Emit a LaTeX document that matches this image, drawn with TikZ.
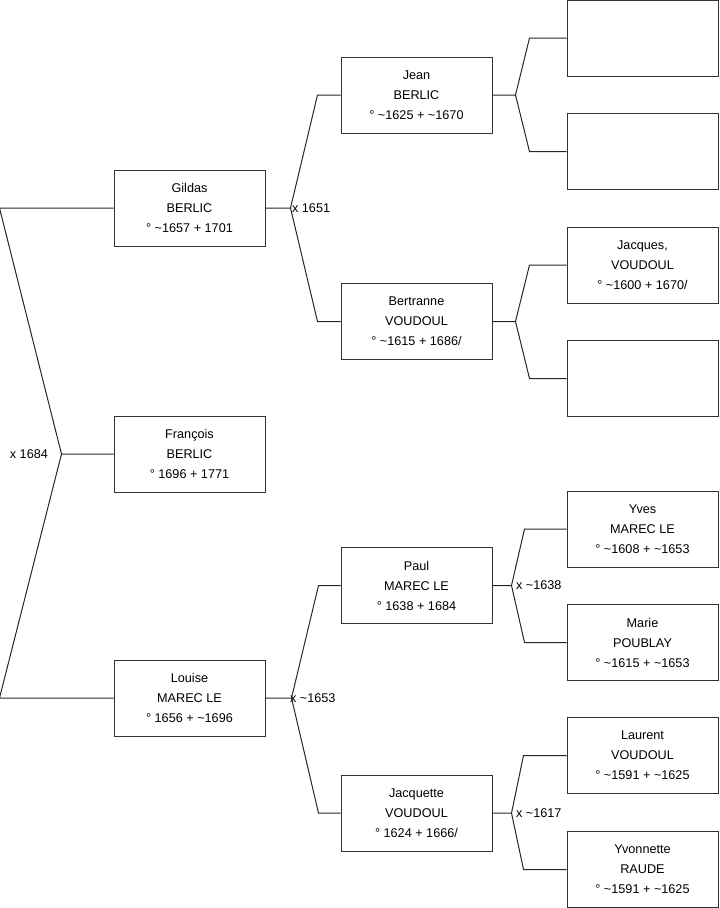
\documentclass[tikz,border=0pt]{standalone}
\usepackage{fontspec}
\setmainfont{Liberation Sans}
\usetikzlibrary{calc}
\definecolor{boxline}{HTML}{333333}
\tikzset{
  person/.style={draw=boxline, line width=0.75pt, fill=white, minimum width=113.25pt,
                 minimum height=57pt, inner sep=0pt, align=center,
                 font=\fontsize{9.5}{15}\selectfont},
  link/.style={line width=0.75pt, color=black!85},
  wedlabel/.style={font=\fontsize{9.5}{11}\selectfont, inner sep=1pt, anchor=west}}

\begin{document}
\begin{tikzpicture}[x=0.75pt, y=-0.75pt]
    \useasboundingbox (0,0) rectangle (719,908);
    % generation 1 and 2
    \node[person] (gildas) at (189.5,208) {Gildas\\BERLIC\\° \textasciitilde1657 + 1701};
    \node[person] (francois) at (189.5,454) {François\\BERLIC\\° 1696 + 1771};
    \node[person] (louise) at (189.5,698) {Louise\\MAREC LE\\° 1656 + \textasciitilde1696};
    % generation 3
    \node[person] (jean) at (416.5,95) {Jean\\BERLIC\\° \textasciitilde1625 + \textasciitilde1670};
    \node[person] (bertranne) at (416.5,321.5) {Bertranne\\VOUDOUL\\° \textasciitilde1615 + 1686/};
    \node[person] (paul) at (416.5,585.5) {Paul\\MAREC LE\\° 1638 + 1684};
    \node[person] (jacquette) at (416.5,813) {Jacquette\\VOUDOUL\\° 1624 + 1666/};
    % generation 4
    \node[person] (empty1) at (642.5,38) {};
    \node[person] (empty2) at (642.5,151.5) {};
    \node[person] (jacques) at (642.5,265) {Jacques,\\VOUDOUL\\° \textasciitilde1600 + 1670/};
    \node[person] (empty3) at (642.5,378.5) {};
    \node[person] (yves) at (642.5,529) {Yves\\MAREC LE\\° \textasciitilde1608 + \textasciitilde1653};
    \node[person] (marie) at (642.5,642.5) {Marie\\POUBLAY\\° \textasciitilde1615 + \textasciitilde1653};
    \node[person] (laurent) at (642.5,755.5) {Laurent\\VOUDOUL\\° \textasciitilde1591 + \textasciitilde1625};
    \node[person] (yvonnette) at (642.5,869.5) {Yvonnette\\RAUDE\\° \textasciitilde1591 + \textasciitilde1625};
    % forks
    \coordinate (m0) at ($(francois.west)+(-52,0)$);
    \draw[link] (francois.west) -- (m0) -- ($(gildas.west)+(-114,0)$) -- (gildas.west);
    \draw[link] (m0) -- ($(louise.west)+(-114,0)$) -- (louise.west);
    \node[wedlabel, anchor=east] at ($(m0)+(-12,0)$) {x 1684};
    \coordinate (m1) at ($(gildas.east)+(25,0)$);
    \draw[link] (gildas.east) -- (m1) -- ($(jean.west)+(-23,0)$) -- (jean.west);
    \draw[link] (m1) -- ($(bertranne.west)+(-23,0)$) -- (bertranne.west);
    \node[wedlabel] at (m1) {x 1651};
    \coordinate (m2) at ($(louise.east)+(26,0)$);
    \draw[link] (louise.east) -- (m2) -- ($(paul.west)+(-22,0)$) -- (paul.west);
    \draw[link] (m2) -- ($(jacquette.west)+(-22,0)$) -- (jacquette.west);
    \node[wedlabel] at ($(m2)+(-3,0)$) {x \textasciitilde1653};
    \coordinate (m3) at ($(jean.east)+(23,0)$);
    \draw[link] (jean.east) -- (m3) -- ($(empty1.west)+(-37,0)$) -- (empty1.west);
    \draw[link] (m3) -- ($(empty2.west)+(-37,0)$) -- (empty2.west);
    \coordinate (m4) at ($(bertranne.east)+(23,0)$);
    \draw[link] (bertranne.east) -- (m4) -- ($(jacques.west)+(-37,0)$) -- (jacques.west);
    \draw[link] (m4) -- ($(empty3.west)+(-37,0)$) -- (empty3.west);
    \coordinate (m5) at ($(paul.east)+(19,0)$);
    \draw[link] (paul.east) -- (m5) -- ($(yves.west)+(-42,0)$) -- (yves.west);
    \draw[link] (m5) -- ($(marie.west)+(-42,0)$) -- (marie.west);
    \node[wedlabel] at ($(m5)+(3,0)$) {x \textasciitilde1638};
    \coordinate (m6) at ($(jacquette.east)+(19,0)$);
    \draw[link] (jacquette.east) -- (m6) -- ($(laurent.west)+(-43,0)$) -- (laurent.west);
    \draw[link] (m6) -- ($(yvonnette.west)+(-43,0)$) -- (yvonnette.west);
    \node[wedlabel] at ($(m6)+(3,0)$) {x \textasciitilde1617};
  \end{tikzpicture}
\end{document}
